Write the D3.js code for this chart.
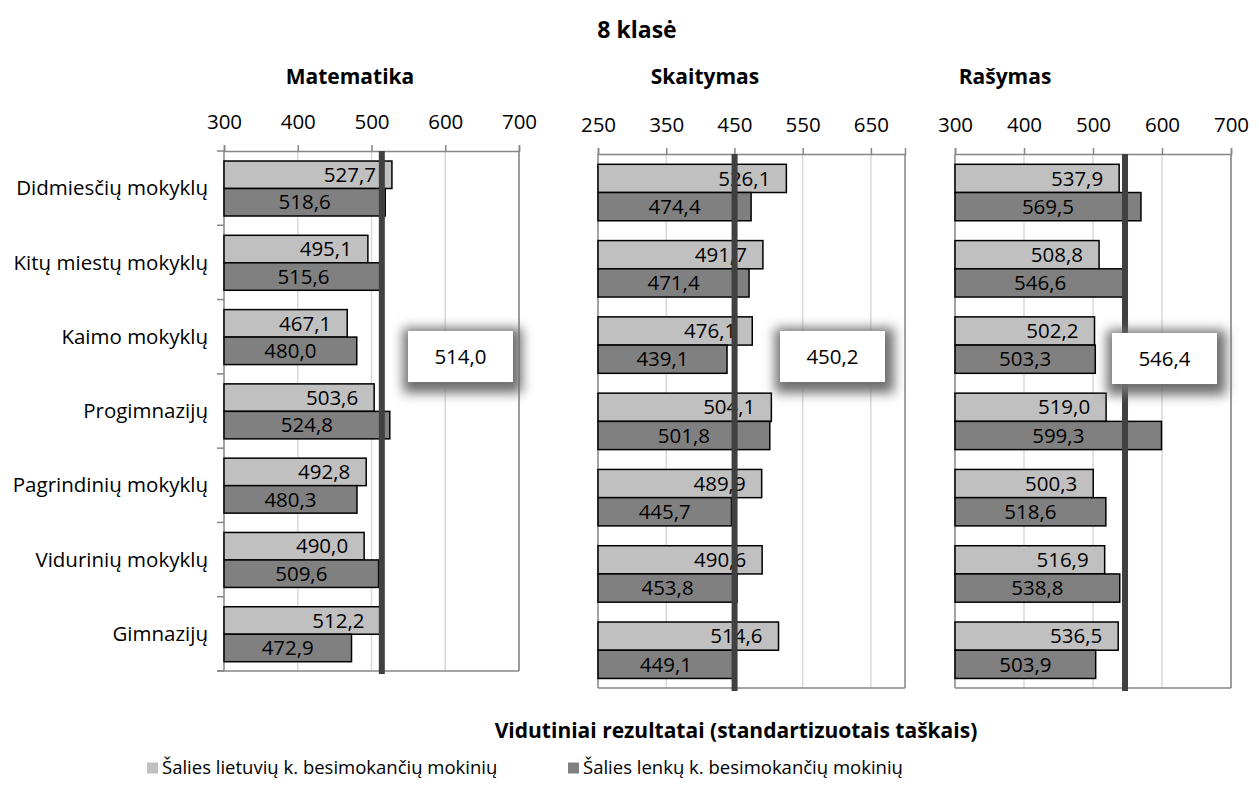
<!DOCTYPE html>
<html>
<head>
<meta charset="utf-8">
<script src="https://cdn.jsdelivr.net/npm/d3@7"></script>
<style>
  body { margin: 0; background: #fff; }
  text { font-family: 'Open Sans', sans-serif; fill: #000; }
</style>
</head>
<body>
<svg width="1259" height="791"></svg>
<script>
// school types, top to bottom
const categories = [
  'Didmiesčių mokyklų',
  'Kitų miestų mokyklų',
  'Kaimo mokyklų',
  'Progimnazijų',
  'Pagrindinių mokyklų',
  'Vidurinių mokyklų',
  'Gimnazijų'
];

const subjects = ['Matematika', 'Skaitymas', 'Rašymas'];
const seriesNames = [
  'Šalies lietuvių k. besimokančių mokinių',
  'Šalies lenkų k. besimokančių mokinių'
];

const mathLt = [527.7, 495.1, 467.1, 503.6, 492.8, 490.0, 512.2];
const mathPl = [518.6, 515.6, 480.0, 524.8, 480.3, 509.6, 472.9];
const readLt = [526.1, 491.7, 476.1, 504.1, 489.9, 490.6, 514.6];
const readPl = [474.4, 471.4, 439.1, 501.8, 445.7, 453.8, 449.1];
const writeLt = [537.9, 508.8, 502.2, 519.0, 500.3, 516.9, 536.5];
const writePl = [569.5, 546.6, 503.3, 599.3, 518.6, 538.8, 503.9];
const averages = [514.0, 450.2, 546.4];

const mathTicks = [300, 400, 500, 600, 700];
const readTicks = [250, 350, 450, 550, 650];
const writeTicks = [300, 400, 500, 600, 700];

const lt = [mathLt, readLt, writeLt];
const pl = [mathPl, readPl, writePl];
const ticks = [mathTicks, readTicks, writeTicks];

// layout of the three small panels
const panels = [
  { x0: 224, x1: 519, y0: 151, y1: 671, max: 700, titleX: 350, boxX: 408, boxY: 331, catAxis: true },
  { x0: 598, x1: 905, y0: 154, y1: 688, max: 700, titleX: 705, boxX: 780, boxY: 331, catAxis: false },
  { x0: 955, x1: 1231, y0: 154, y1: 688, max: 700, titleX: 1005, boxX: 1112, boxY: 333, catAxis: false }
];

const lightFill = '#C0C0C0';
const darkFill = '#808080';
const axisColor = '#868686';
const gridColor = '#D9D9D9';

const fmt = v => d3.format('.1f')(v).replace('.', ',');

const svg = d3.select('svg');

// soft grey glow behind the average boxes
const defs = svg.append('defs');
const glow = defs.append('filter')
  .attr('id', 'glow')
  .attr('x', '-50%').attr('y', '-100%')
  .attr('width', '200%').attr('height', '300%');
glow.append('feMorphology').attr('in', 'SourceAlpha').attr('operator', 'dilate').attr('radius', 7).attr('result', 'd');
glow.append('feGaussianBlur').attr('in', 'd').attr('stdDeviation', 6).attr('result', 'b');
glow.append('feOffset').attr('in', 'b').attr('dx', 2).attr('dy', 4).attr('result', 'o');
glow.append('feFlood').attr('flood-color', '#6e6e6e').attr('result', 'f');
glow.append('feComposite').attr('in', 'f').attr('in2', 'o').attr('operator', 'in').attr('result', 's');
const merge = glow.append('feMerge');
merge.append('feMergeNode').attr('in', 's');
merge.append('feMergeNode').attr('in', 'SourceGraphic');

svg.append('text')
  .attr('x', 637)
  .attr('y', 30)
  .attr('dy', '0.35em')
  .attr('text-anchor', 'middle')
  .style('font-weight', 'bold')
  .style('font-size', '23px')
  .text('8 klasė');

panels.forEach((p, i) => {
  const x = d3.scaleLinear().domain([ticks[i][0], p.max]).range([p.x0, p.x1]);
  const y = d3.scaleBand().domain(categories).range([p.y0, p.y1]);
  const bw = y.bandwidth();
  const barH = bw * 0.37;
  const barOff = bw * 0.135;

  const g = svg.append('g');

  g.append('text')
    .attr('x', p.titleX)
    .attr('y', 77)
    .attr('dy', '0.35em')
    .attr('text-anchor', 'middle')
    .style('font-weight', 'bold')
    .style('font-size', '21px')
    .text(subjects[i]);

  // vertical grid
  g.append('g')
    .selectAll('line')
    .data(ticks[i].slice(1))
    .join('line')
    .attr('x1', d => x(d)).attr('x2', d => x(d))
    .attr('y1', p.y0).attr('y2', p.y1)
    .attr('stroke', gridColor)
    .attr('stroke-width', 1.5);

  // top axis
  const axis = g.append('g')
    .attr('transform', `translate(0,${p.y0})`)
    .call(d3.axisTop(x).tickValues(ticks[i]).tickSize(6).tickPadding(16).tickFormat(d3.format('d')));
  axis.select('.domain').attr('stroke', axisColor).attr('stroke-width', 1.5);
  axis.selectAll('.tick line').attr('stroke', axisColor).attr('stroke-width', 1.5);
  axis.selectAll('.tick text')
    .style('font-size', '20.5px')
    .style('font-family', "'Open Sans', sans-serif")
    .attr('fill', '#000');

  // frame
  g.append('line')
    .attr('x1', p.x1).attr('x2', p.x1)
    .attr('y1', p.y0).attr('y2', p.y1)
    .attr('stroke', axisColor).attr('stroke-width', 1.5);
  g.append('line')
    .attr('x1', p.catAxis ? p.x0 - 7 : p.x0).attr('x2', p.x1)
    .attr('y1', p.y1).attr('y2', p.y1)
    .attr('stroke', axisColor).attr('stroke-width', 1.5);
  g.append('line')
    .attr('x1', p.x0).attr('x2', p.x0)
    .attr('y1', p.y0).attr('y2', p.y1)
    .attr('stroke', axisColor).attr('stroke-width', 1.5);

  if (p.catAxis) {
    const bounds = categories.map(c => y(c)).concat([p.y1]);
    g.append('g')
      .selectAll('line')
      .data(bounds)
      .join('line')
      .attr('x1', p.x0 - 7).attr('x2', p.x0)
      .attr('y1', d => d).attr('y2', d => d)
      .attr('stroke', axisColor).attr('stroke-width', 1.5);
    g.append('g')
      .selectAll('text')
      .data(categories)
      .join('text')
      .attr('x', 208)
      .attr('y', d => y(d) + bw / 2)
      .attr('dy', '0.35em')
      .attr('text-anchor', 'end')
      .style('font-size', '20.5px')
      .text(d => d);
  }

  const rows = categories.map((c, k) => ({ c, lt: lt[i][k], pl: pl[i][k] }));

  g.append('g')
    .selectAll('rect')
    .data(rows)
    .join('rect')
    .attr('x', p.x0)
    .attr('y', d => y(d.c) + barOff)
    .attr('width', d => x(d.lt) - p.x0)
    .attr('height', barH)
    .attr('fill', lightFill)
    .attr('stroke', '#000')
    .attr('stroke-width', 1.5);

  g.append('g')
    .selectAll('rect')
    .data(rows)
    .join('rect')
    .attr('x', p.x0)
    .attr('y', d => y(d.c) + barOff + barH)
    .attr('width', d => x(d.pl) - p.x0)
    .attr('height', barH)
    .attr('fill', darkFill)
    .attr('stroke', '#000')
    .attr('stroke-width', 1.5);

  g.append('g')
    .selectAll('text')
    .data(rows)
    .join('text')
    .attr('x', d => x(d.lt) - 16)
    .attr('y', d => y(d.c) + barOff + barH / 2)
    .attr('dy', '0.35em')
    .attr('text-anchor', 'end')
    .style('font-size', '20.5px')
    .text(d => fmt(d.lt));

  g.append('g')
    .selectAll('text')
    .data(rows)
    .join('text')
    .attr('x', d => (p.x0 + x(d.pl)) / 2)
    .attr('y', d => y(d.c) + barOff + barH * 1.5)
    .attr('dy', '0.35em')
    .attr('text-anchor', 'middle')
    .style('font-size', '20.5px')
    .text(d => fmt(d.pl));

  // country average line
  g.append('line')
    .attr('x1', x(averages[i])).attr('x2', x(averages[i]))
    .attr('y1', p.y0).attr('y2', p.y1 + 3)
    .attr('stroke', '#404040')
    .attr('stroke-width', 6);

  g.append('rect')
    .attr('x', p.boxX)
    .attr('y', p.boxY)
    .attr('width', 105)
    .attr('height', 51)
    .attr('fill', '#fff')
    .attr('filter', 'url(#glow)');
  g.append('text')
    .attr('x', p.boxX + 52.5)
    .attr('y', p.boxY + 25.5)
    .attr('dy', '0.35em')
    .attr('text-anchor', 'middle')
    .style('font-size', '20.5px')
    .text(fmt(averages[i]));
});

svg.append('text')
  .attr('x', 736)
  .attr('y', 731)
  .attr('dy', '0.35em')
  .attr('text-anchor', 'middle')
  .style('font-weight', 'bold')
  .style('font-size', '21px')
  .text('Vidutiniai rezultatai (standartizuotais taškais)');

const legendX = [147, 568];
const legend = svg.append('g')
  .selectAll('g')
  .data(seriesNames)
  .join('g')
  .attr('transform', (d, k) => `translate(${legendX[k]},768)`);
legend.append('rect')
  .attr('x', 0).attr('y', -5.5)
  .attr('width', 11).attr('height', 11)
  .attr('fill', (d, k) => (k === 0 ? lightFill : darkFill));
legend.append('text')
  .attr('x', 15)
  .attr('dy', '0.35em')
  .style('font-size', '18.5px')
  .text(d => d);
</script>
</body>
</html>
